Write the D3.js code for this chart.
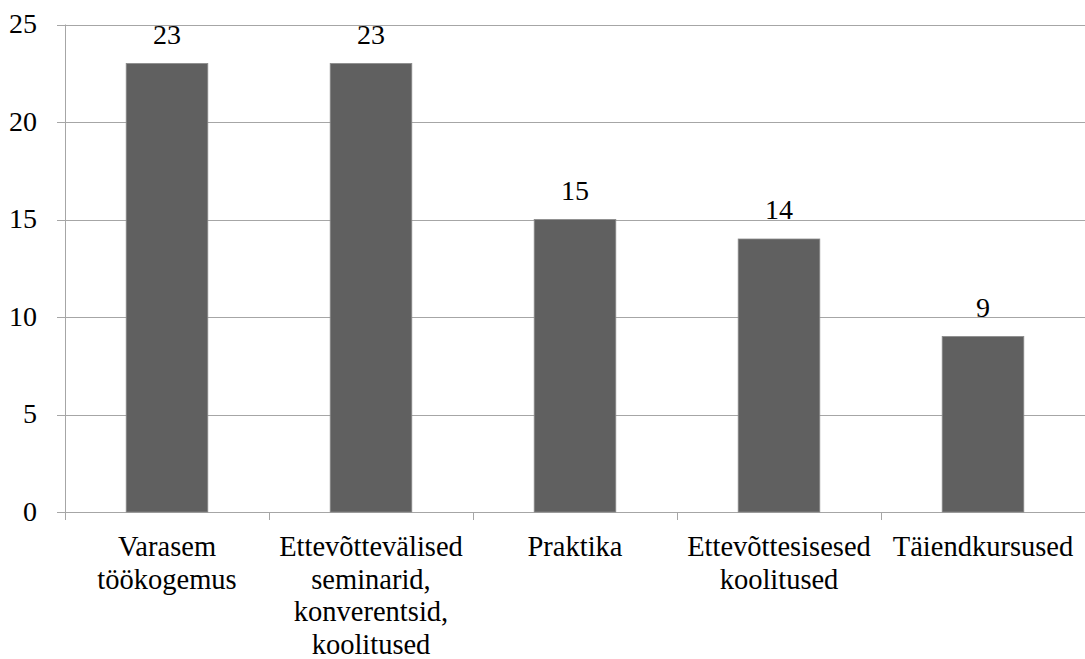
<!DOCTYPE html>
<html>
<head>
<meta charset="utf-8">
<script src="https://cdn.jsdelivr.net/npm/d3@7"></script>
</head>
<body style="margin:0">
<div id="chart"></div>
<script>
const categories = [
  "Varasem\ntöökogemus",
  "Ettevõttevälised\nseminarid,\nkonverentsid,\nkoolitused",
  "Praktika",
  "Ettevõttesisesed\nkoolitused",
  "Täiendkursused"
];
const values = [23, 23, 15, 14, 9];
const yTicks = [0, 5, 10, 15, 20, 25];

const width = 1085, height = 659;
const margin = { top: 24.5, right: 0, bottom: 147, left: 65 };
const innerW = width - margin.left - margin.right;
const innerH = height - margin.top - margin.bottom;
const fontFam = '"Liberation Serif"';

const svg = d3.select("#chart").append("svg")
  .attr("width", width)
  .attr("height", height);

const x = d3.scaleBand()
  .domain(categories)
  .range([margin.left, margin.left + innerW])
  .paddingInner(0.6)
  .paddingOuter(0.3);

const y = d3.scaleLinear()
  .domain([0, 25])
  .range([margin.top + innerH, margin.top]);

// gridlines
svg.selectAll("line.grid")
  .data(yTicks)
  .join("line")
  .attr("class", "grid")
  .attr("x1", margin.left - 8)
  .attr("x2", margin.left + innerW)
  .attr("y1", d => Math.round(y(d)) + 0.5)
  .attr("y2", d => Math.round(y(d)) + 0.5)
  .attr("stroke", "#a6a6a6");

// y axis line
svg.append("line")
  .attr("x1", margin.left + 0.5)
  .attr("x2", margin.left + 0.5)
  .attr("y1", margin.top)
  .attr("y2", margin.top + innerH)
  .attr("stroke", "#a6a6a6");

// y tick labels
svg.selectAll("text.ytick")
  .data(yTicks)
  .join("text")
  .attr("class", "ytick")
  .attr("x", margin.left - 28)
  .attr("y", d => y(d))
  .attr("dy", "0.32em")
  .attr("text-anchor", "end")
  .style("font-family", fontFam)
  .attr("font-size", 28)
  .text(d => d);

// bars
svg.selectAll("rect.bar")
  .data(values)
  .join("rect")
  .attr("class", "bar")
  .attr("x", (d, i) => x(categories[i]))
  .attr("y", d => y(d))
  .attr("width", x.bandwidth())
  .attr("height", d => y(0) - y(d))
  .attr("fill", "#606060")
  .attr("stroke", "#8a8a8a")
  .attr("stroke-width", 0.8);

// value labels
svg.selectAll("text.val")
  .data(values)
  .join("text")
  .attr("class", "val")
  .attr("x", (d, i) => x(categories[i]) + x.bandwidth() / 2)
  .attr("y", d => y(d) - 20)
  .attr("text-anchor", "middle")
  .style("font-family", fontFam)
  .attr("font-size", 28)
  .text(d => d);

// category boundary ticks
const step = x.step();
svg.selectAll("line.xtick")
  .data(d3.range(categories.length))
  .join("line")
  .attr("class", "xtick")
  .attr("x1", i => Math.round(margin.left + i * step) + 0.5)
  .attr("x2", i => Math.round(margin.left + i * step) + 0.5)
  .attr("y1", y(0))
  .attr("y2", y(0) + 8)
  .attr("stroke", "#a6a6a6");

// category labels, one text per line
const labelLines = categories.flatMap((c, ci) =>
  c.split("\n").map((t, li) => ({ c, t, li })));

svg.selectAll("text.cat")
  .data(labelLines)
  .join("text")
  .attr("class", "cat")
  .attr("x", d => x(d.c) + x.bandwidth() / 2)
  .attr("y", d => y(0) + 44 + d.li * 32.5)
  .attr("text-anchor", "middle")
  .style("font-family", fontFam)
  .attr("font-size", 28.5)
  .text(d => d.t);
</script>
</body>
</html>
